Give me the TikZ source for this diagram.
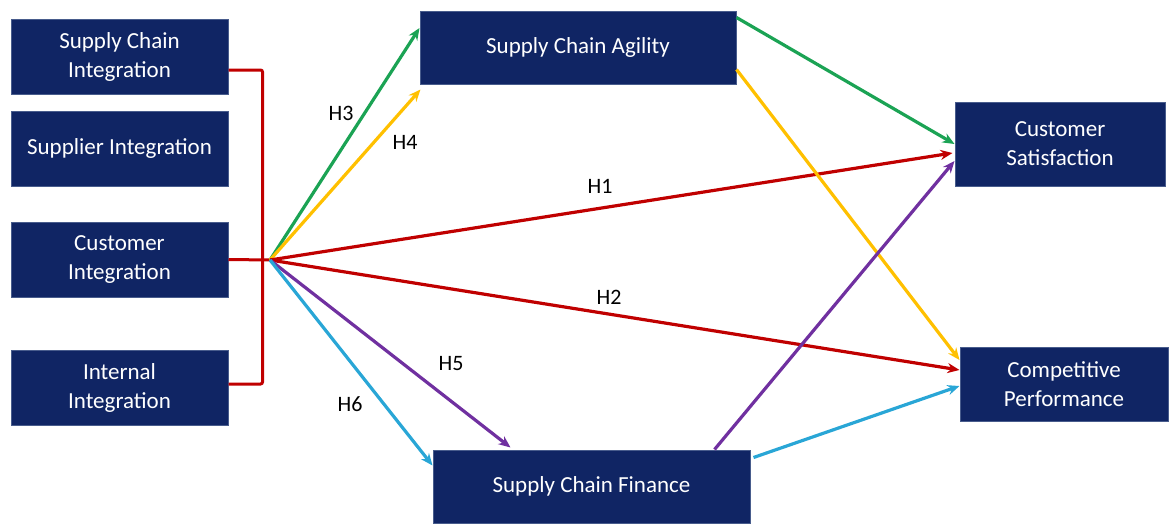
\documentclass[tikz,border=0pt]{standalone}
\usepackage{fontspec}
\setmainfont{Carlito}
\usepackage{xcolor}
\usepackage{tikz}
\usetikzlibrary{arrows.meta,positioning}

\definecolor{boxblue}{RGB}{16,37,100}
\definecolor{boxedge}{RGB}{72,92,140}
\definecolor{hgreen}{RGB}{27,163,84}
\definecolor{hyellow}{RGB}{255,192,0}
\definecolor{hred}{RGB}{192,0,0}
\definecolor{hpurple}{RGB}{112,48,160}
\definecolor{hcyan}{RGB}{41,166,214}

\begin{document}
\begin{tikzpicture}[
    x=1pt, y=-1pt,
    construct/.style={rectangle, minimum width=217pt, minimum height=75pt, text centered, align=center, draw=boxedge, line width=1pt, fill=boxblue, text=white, font=\fontsize{23}{29}\selectfont},
    hlabel/.style={font=\fontsize{22}{26}\selectfont, text=black},
    link/.style={line width=3pt, hred, rounded corners=2pt},
    arrow/.style={line width=3.2pt, -{Stealth[length=12pt,width=10pt]}}
]

\useasboundingbox (0,0) rectangle (1169,525);

\node (sci) [construct] at (119.5,57) {Supply Chain\\Integration};
\node (sup) [construct] at (119.5,148.5) {Supplier Integration};
\node (cus) [construct] at (119.5,259.5) {Customer\\Integration};
\node (int) [construct] at (119.5,388) {Internal\\Integration};

\node (sca) [construct, minimum width=316pt, minimum height=73pt] at (578,47.5) {Supply Chain Agility};
\node (scf) [construct, minimum width=317pt, minimum height=73pt] at (591.5,486.5) {Supply Chain Finance};
\node (cs) [construct, minimum width=210pt, minimum height=84pt] at (1060,144) {Customer\\Satisfaction};
\node (cp) [construct, minimum width=208pt, minimum height=74pt] at (1064,384) {Competitive\\Performance};

\coordinate (hub) at (270,260);

\draw [link] ([yshift=-13pt]sci.east) -- ++(34,0) |- ([yshift=4pt]int.east);
\draw [link] (cus.east) -- (hub);

\draw [arrow, hgreen] (hub) -- ([yshift=19.5pt]sca.west);
\draw [arrow, hyellow] (hub) -- ([xshift=1pt,yshift=-5pt]sca.south west);
\draw [arrow, hred] (hub) -- ([xshift=-2pt,yshift=-9pt]cs.west);
\draw [arrow, hred] (hub) -- ([yshift=14pt]cp.west);
\draw [arrow, hpurple] (hub) -- ([xshift=-81pt,yshift=2pt]scf.north);
\draw [arrow, hcyan] (hub) -- ([yshift=21pt]scf.west);

\draw [arrow, hgreen] ([yshift=30pt]sca.east) -- (cs.west);
\draw [arrow, hyellow] ([yshift=-22pt]sca.east) -- ([yshift=24pt]cp.west);
\draw [arrow, hpurple] ([xshift=123pt]scf.north) -- ([yshift=-17pt]cs.west);
\draw [arrow, hcyan] ([xshift=3pt,yshift=29pt]scf.east) -- ([yshift=-2pt]cp.west);

\node (h3) [hlabel] at (341,113) {H3};
\node (h4) [hlabel] at (405,142) {H4};
\node (h1) [hlabel] at (600,186) {H1};
\node (h2) [hlabel] at (609,297) {H2};
\node (h5) [hlabel] at (451,364) {H5};
\node (h6) [hlabel] at (350,404) {H6};

\end{tikzpicture}
\end{document}
